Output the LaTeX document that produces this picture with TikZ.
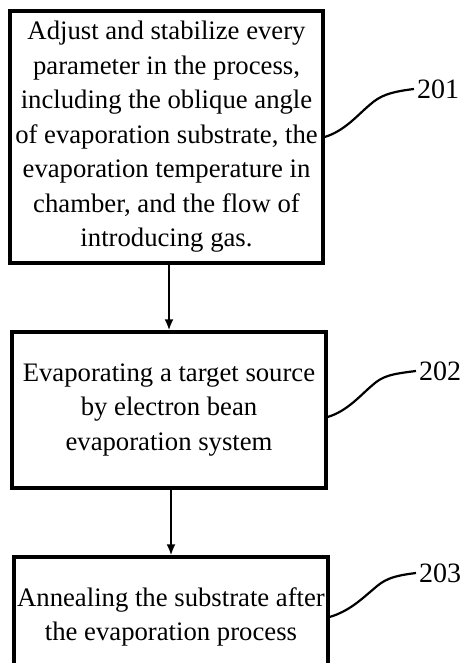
\documentclass[tikz,border=0pt]{standalone}
\usepackage{fontspec}
\setmainfont{Liberation Serif}
\usetikzlibrary{arrows.meta}
\begin{document}
\begin{tikzpicture}[x=1pt,y=-1pt,
  stepbox/.style={draw, line width=3.2pt, align=center, inner sep=0pt,
    font=\fontsize{26.7}{34.5}\selectfont},
  flow/.style={line width=2.2pt, -{Latex[length=11pt,width=9pt]}},
  leader/.style={line width=2.2pt},
  refnum/.style={anchor=west, inner sep=3pt, font=\fontsize{28}{30}\selectfont}]
\clip (0,0) rectangle (468,663);
\useasboundingbox (0,0) rectangle (468,663);

% process steps
\node[stepbox, minimum width=313pt, minimum height=252pt] (b1) at (166.5,137)
  {Adjust and stabilize every\\ parameter in the process,\\ including the oblique angle\\
   of evaporation substrate, the\\ evaporation temperature in\\ chamber, and the flow of\\
   introducing gas.};
\node[stepbox, minimum width=314pt, minimum height=156pt] (b2) at (169,410)
  {Evaporating a target source\\ by electron bean\\ evaporation system};
\node[stepbox, minimum width=314pt, minimum height=120pt] (b3) at (171,617)
  {Annealing the substrate after\\ the evaporation process};

% flow arrows
\draw[flow] (b1.south -| b2.north) -- (b2.north);
\draw[flow] (b2.south -| b3.north) -- (b3.north);

% reference numerals
\node[refnum] (l1) at (414,89) {201};
\node[refnum] (l2) at (416,371) {202};
\node[refnum] (l3) at (416,573) {203};

\coordinate (s1) at (b1.east);
\coordinate (s2) at ([yshift=-7pt]b2.east);
\coordinate (s3) at (b3.east);

\draw[leader] (s1) .. controls +(20,-6) and +(-12,10) .. ++(45,-32)
  .. controls +(10,-9) and +(-25,3) .. (l1.west);
\draw[leader] (s2) .. controls +(20,-6) and +(-12,10) .. ++(45,-32)
  .. controls +(10,-9) and +(-25,3) .. (l2.west);
\draw[leader] (s3) .. controls +(20,-6) and +(-12,10) .. ++(44,-28)
  .. controls +(10,-9) and +(-25,3) .. (l3.west);
\end{tikzpicture}
\end{document}
